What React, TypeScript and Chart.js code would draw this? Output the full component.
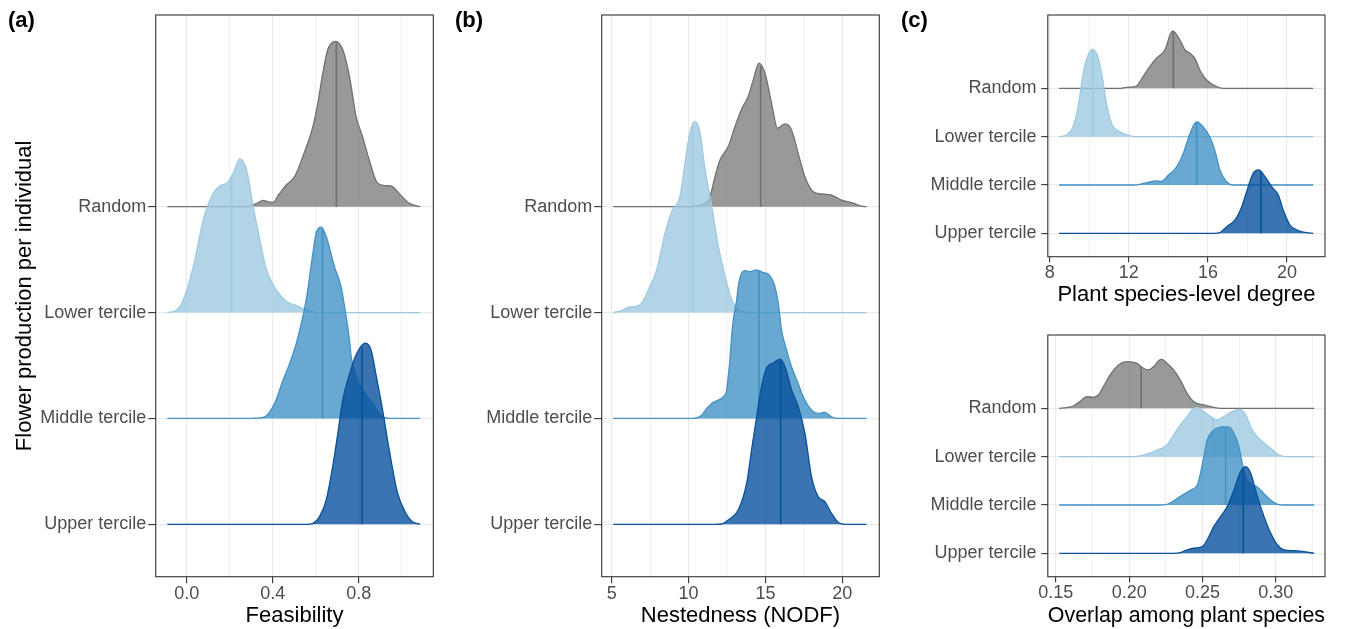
import React, { useEffect, useRef } from "react";
import { Chart, registerables } from "chart.js";
Chart.register(...registerables);
Chart.defaults.font.family = '"Liberation Sans", Arial, Helvetica, sans-serif';

type Pt = [number, number];

// ---------- categories ----------
const groups = ["Random", "Lower tercile", "Middle tercile", "Upper tercile"];
const baselines = [4, 3, 2, 1];
const lineColors = ["#707070", "#9ecae1", "#4292c6", "#08519c"];
const fillColors = ["rgba(128,128,128,0.8)", "rgba(158,202,225,0.8)", "rgba(66,146,198,0.8)", "rgba(8,81,156,0.8)"];

// ---------- (a) Feasibility : [x, ridge height] ----------
const feasRandom: Pt[] = [[-0.09,0],[0.25,0],[0.293,0.006],[0.33,0.035],[0.355,0.06],[0.38,0.045],[0.401,0.041],[0.43,0.12],[0.463,0.205],[0.502,0.284],[0.54,0.473],[0.587,0.757],[0.61,0.978],[0.633,1.261],[0.656,1.482],[0.692,1.561],[0.726,1.482],[0.757,1.23],[0.788,0.851],[0.818,0.662],[0.849,0.441],[0.888,0.221],[0.927,0.199],[0.957,0.189],[0.988,0.126],[1.035,0.032],[1.086,0]];
const feasLower: Pt[] = [[-0.09,0],[-0.046,0.025],[-0.016,0.12],[0.031,0.435],[0.077,0.877],[0.116,1.097],[0.154,1.198],[0.188,1.224],[0.216,1.318],[0.247,1.451],[0.278,1.35],[0.309,1.003],[0.34,0.688],[0.371,0.404],[0.417,0.214],[0.463,0.104],[0.51,0.066],[0.556,0.025],[0.602,0.002],[0.65,0],[1.086,0]];
const feasMiddle: Pt[] = [[-0.09,0],[0.3,0],[0.324,0.003],[0.363,0.015],[0.409,0.142],[0.448,0.362],[0.479,0.52],[0.51,0.71],[0.556,1.119],[0.587,1.561],[0.602,1.75],[0.626,1.807],[0.649,1.718],[0.687,1.434],[0.718,1.245],[0.734,1.06],[0.757,0.741],[0.765,0.583],[0.788,0.394],[0.818,0.268],[0.865,0.142],[0.911,0.015],[0.942,0],[1.086,0]];
const feasUpper: Pt[] = [[-0.09,0],[0.56,0],[0.587,0.009],[0.618,0.072],[0.649,0.23],[0.679,0.545],[0.703,0.861],[0.726,1.176],[0.757,1.419],[0.788,1.602],[0.831,1.712],[0.857,1.649],[0.88,1.419],[0.911,1.081],[0.942,0.703],[0.981,0.293],[1.019,0.104],[1.05,0.025],[1.086,0]];
const feasMedians = [0.696, 0.208, 0.632, 0.816];
const feasTicks = [0, 0.2, 0.4, 0.6, 0.8, 1.0];
const feasTickLabels = ["0.0", "", "0.4", "", "0.8", ""];

// ---------- (b) Nestedness (NODF) ----------
const nodfRandom: Pt[] = [[5.1,0],[10.0,0],[10.42,0.006],[11.07,0.032],[11.39,0.095],[11.72,0.284],[12.04,0.442],[12.58,0.568],[13.02,0.757],[13.45,0.921],[13.88,1.041],[14.21,1.198],[14.58,1.356],[14.97,1.261],[15.4,0.977],[15.79,0.741],[16.27,0.782],[16.7,0.725],[17.13,0.505],[17.57,0.284],[18.11,0.142],[18.65,0.12],[19.3,0.11],[19.95,0.063],[20.6,0.038],[21.25,0.006],[21.58,0]];
const nodfLower: Pt[] = [[5.1,0],[5.65,0.019],[6.08,0.05],[6.52,0.057],[6.95,0.088],[7.38,0.215],[7.93,0.404],[8.47,0.751],[8.9,0.956],[9.44,1.097],[9.77,1.413],[10.09,1.703],[10.42,1.807],[10.74,1.703],[11.07,1.356],[11.5,1.009],[11.93,0.631],[12.37,0.347],[12.8,0.126],[13.23,0.025],[13.67,0.003],[14.2,0],[21.58,0]];
const nodfMiddle: Pt[] = [[5.1,0],[10.3,0],[10.85,0.031],[11.18,0.094],[11.5,0.142],[11.93,0.173],[12.26,0.204],[12.48,0.268],[12.58,0.394],[12.69,0.551],[12.8,0.772],[12.91,0.93],[13.13,1.119],[13.23,1.245],[13.45,1.372],[13.67,1.396],[13.99,1.387],[14.43,1.403],[14.86,1.378],[15.18,1.365],[15.4,1.324],[15.62,1.245],[15.84,1.088],[16.05,0.835],[16.38,0.646],[16.7,0.488],[17.13,0.33],[17.46,0.204],[18.0,0.079],[18.43,0.047],[18.87,0.057],[19.3,0.015],[19.73,0],[21.58,0]];
const nodfUpper: Pt[] = [[5.1,0],[11.7,0],[12.15,0.003],[12.58,0.041],[13.23,0.135],[13.78,0.388],[14.1,0.703],[14.43,1.018],[14.75,1.302],[15.08,1.476],[15.51,1.523],[15.94,1.561],[16.27,1.491],[16.7,1.271],[17.13,1.113],[17.57,0.861],[18.0,0.45],[18.43,0.261],[18.87,0.214],[19.3,0.104],[19.84,0.009],[20.3,0],[21.58,0]];
const nodfMedians = [14.69, 10.27, 14.58, 15.99];
const nodfTicks = [5, 7.5, 10, 12.5, 15, 17.5, 20];
const nodfTickLabels = ["5", "", "10", "", "15", "", "20"];

// ---------- (c, top) Plant species-level degree ----------
const degRandom: Pt[] = [[8.47,0],[11.5,0],[11.88,0.021],[12.2,0.03],[12.39,0.048],[12.72,0.241],[13.06,0.448],[13.4,0.621],[13.82,0.793],[14.21,1.186],[14.58,1.0],[14.84,0.793],[15.09,0.724],[15.34,0.621],[15.59,0.379],[15.93,0.172],[16.44,0.034],[16.77,0],[21.33,0]];
const degLower: Pt[] = [[8.47,0],[8.84,0.034],[9.18,0.207],[9.43,0.621],[9.69,1.31],[9.94,1.69],[10.16,1.807],[10.4,1.69],[10.62,1.31],[10.87,0.69],[11.12,0.276],[11.54,0.103],[11.96,0.034],[12.22,0],[21.33,0]];
const degMiddle: Pt[] = [[8.47,0],[12.3,0],[12.56,0.014],[13.06,0.062],[13.32,0.083],[13.65,0.076],[13.99,0.2],[14.41,0.372],[14.75,0.648],[15.09,1.062],[15.43,1.303],[15.76,1.2],[16.1,0.993],[16.35,0.717],[16.61,0.303],[16.95,0.062],[17.28,0],[21.33,0]];
const degUpper: Pt[] = [[8.47,0],[16.3,0],[16.61,0.014],[16.95,0.138],[17.37,0.276],[17.71,0.552],[18.04,0.966],[18.29,1.241],[18.58,1.31],[18.89,1.172],[19.22,0.966],[19.56,0.793],[19.81,0.483],[20.15,0.172],[20.57,0.055],[21.0,0.014],[21.33,0]];
const degMedians = [14.25, 10.19, 15.43, 18.68];
const degTicks = [8, 10, 12, 14, 16, 18, 20];
const degTickLabels = ["8", "", "12", "", "16", "", "20"];

// ---------- (c, bottom) Overlap among plant species ----------
const ovRandom: Pt[] = [[0.1523,0],[0.1573,0.014],[0.1619,0.048],[0.1664,0.138],[0.171,0.24],[0.1756,0.228],[0.179,0.276],[0.1824,0.448],[0.187,0.69],[0.1927,0.897],[0.1984,0.966],[0.2053,0.931],[0.2098,0.828],[0.2132,0.793],[0.2167,0.862],[0.2201,0.986],[0.2224,1.014],[0.2258,0.931],[0.2303,0.793],[0.2349,0.586],[0.2395,0.31],[0.244,0.138],[0.2509,0.069],[0.2577,0.021],[0.2623,0],[0.3262,0]];
const ovLower: Pt[] = [[0.1523,0],[0.2,0],[0.2053,0.003],[0.2121,0.055],[0.219,0.138],[0.2258,0.241],[0.2303,0.448],[0.2349,0.655],[0.2395,0.828],[0.2429,0.966],[0.2459,1.021],[0.2509,0.931],[0.2555,0.828],[0.2601,0.759],[0.2646,0.828],[0.2703,0.931],[0.2756,0.979],[0.2795,0.862],[0.284,0.552],[0.2897,0.345],[0.2966,0.172],[0.3023,0.034],[0.308,0],[0.3262,0]];
const ovMiddle: Pt[] = [[0.1523,0],[0.22,0],[0.2258,0.014],[0.2327,0.131],[0.2372,0.221],[0.2418,0.303],[0.2464,0.407],[0.2486,0.648],[0.2509,0.993],[0.2532,1.338],[0.2577,1.545],[0.2635,1.614],[0.268,1.614],[0.2715,1.476],[0.2749,1.2],[0.2772,0.855],[0.2795,0.579],[0.2829,0.441],[0.2875,0.372],[0.292,0.234],[0.2966,0.097],[0.3012,0.014],[0.3057,0],[0.3262,0]];
const ovUpper: Pt[] = [[0.1523,0],[0.23,0],[0.2349,0.014],[0.2395,0.069],[0.2452,0.11],[0.2498,0.138],[0.2532,0.276],[0.2577,0.552],[0.2623,0.759],[0.2669,0.966],[0.2715,1.31],[0.276,1.69],[0.2795,1.793],[0.2829,1.655],[0.2875,1.172],[0.292,0.759],[0.2966,0.414],[0.3012,0.172],[0.3057,0.069],[0.3125,0.055],[0.3194,0.034],[0.3262,0]];
const ovMedians = [0.2082, 0.2573, 0.2658, 0.2779];
const ovTicks = [0.15, 0.175, 0.2, 0.225, 0.25, 0.275, 0.3, 0.325];
const ovTickLabels = ["0.15", "", "0.20", "", "0.25", "", "0.30", ""];

// ---------- panel specs (layout kept separate from data) ----------
interface Spec {
  ridges: Pt[][]; medians: number[]; ticks: number[]; tickLabels: string[];
  xMin: number; xMax: number; yMin: number; yMax: number;
  xTitle: string; yTitle?: string;
  box: { left: number; top: number; w: number; h: number };
  area: { left: number; top: number; right: number; bottom: number };
  xTitlePad: number; tickLen: number; yPad: number; xPad: number;
}

const specs: Spec[] = [
  { ridges: [feasRandom, feasLower, feasMiddle, feasUpper], medians: feasMedians, ticks: feasTicks, tickLabels: feasTickLabels,
    xMin: -0.1442, xMax: 1.147, yMin: 0.505, yMax: 5.811, xTitle: "Feasibility", yTitle: "Flower production per individual",
    box: { left: 0, top: 0, w: 440, h: 629 }, area: { left: 155.7, top: 15, right: 433.3, bottom: 576.7 },
    xTitlePad: 0, tickLen: 7.5, yPad: 2, xPad: 0 },
  { ridges: [nodfRandom, nodfLower, nodfMiddle, nodfUpper], medians: nodfMedians, ticks: nodfTicks, tickLabels: nodfTickLabels,
    xMin: 4.349, xMax: 22.41, yMin: 0.505, yMax: 5.811, xTitle: "Nestedness (NODF)",
    box: { left: 440, top: 0, w: 446, h: 629 }, area: { left: 161.7, top: 15, right: 439.3, bottom: 576.7 },
    xTitlePad: 0, tickLen: 7.5, yPad: 2, xPad: 0 },
  { ridges: [degRandom, degLower, degMiddle, degUpper], medians: degMedians, ticks: degTicks, tickLabels: degTickLabels,
    xMin: 7.899, xMax: 21.924, yMin: 0.516, yMax: 5.517, xTitle: "Plant species-level degree",
    box: { left: 886, top: 0, w: 460, h: 315 }, area: { left: 161.8, top: 15, right: 439, bottom: 256.7 },
    xTitlePad: 6.8, tickLen: 6.5, yPad: 4.8, xPad: 0 },
  { ridges: [ovRandom, ovLower, ovMiddle, ovUpper], medians: ovMedians, ticks: ovTicks, tickLabels: ovTickLabels,
    xMin: 0.1445, xMax: 0.3336, yMin: 0.516, yMax: 5.517, xTitle: "Overlap among plant species",
    box: { left: 886, top: 315, w: 460, h: 314 }, area: { left: 161.8, top: 20, right: 439, bottom: 261.7 },
    xTitlePad: 0, tickLen: 6.5, yPad: 4.8, xPad: 0 },
];

function interp(pts: Pt[], x: number): number {
  for (let i = 1; i < pts.length; i++) {
    if (x <= pts[i][0]) {
      const [x0, y0] = pts[i - 1];
      const [x1, y1] = pts[i];
      return y0 + ((y1 - y0) * (x - x0)) / (x1 - x0);
    }
  }
  return 0;
}

const framePlugin = {
  id: "frame",
  afterDraw(chart: any) {
    const { ctx, chartArea } = chart;
    ctx.save();
    ctx.strokeStyle = "#333333";
    ctx.lineWidth = 1.1;
    ctx.strokeRect(chartArea.left, chartArea.top, chartArea.right - chartArea.left, chartArea.bottom - chartArea.top);
    ctx.restore();
  },
};

function buildConfig(p: Spec): any {
  const datasets: any[] = [];
  p.ridges.forEach((pts, i) => {
    const base = baselines[i];
    datasets.push({
      data: pts.map(([x, h]) => ({ x, y: base + h })),
      borderColor: lineColors[i],
      backgroundColor: fillColors[i],
      borderWidth: 1.3,
      pointRadius: 0,
      fill: { value: base },
      cubicInterpolationMode: "monotone",
      order: 8 - 2 * i,
    });
    const m = p.medians[i];
    datasets.push({
      data: [{ x: m, y: base }, { x: m, y: base + interp(pts, m) }],
      borderColor: lineColors[i],
      borderWidth: 1.6,
      pointRadius: 0,
      fill: false,
      order: 7 - 2 * i,
    });
  });
  const xHeight = p.box.h - p.area.bottom;
  return {
    type: "line",
    data: { datasets },
    options: {
      animation: false,
      responsive: false,
      events: [],
      layout: { padding: { left: 0, top: p.area.top, right: p.box.w - p.area.right, bottom: 0 } },
      plugins: { legend: { display: false }, tooltip: { enabled: false } },
      scales: {
        x: {
          type: "linear", min: p.xMin, max: p.xMax,
          afterBuildTicks: (s: any) => { s.ticks = p.ticks.map((v) => ({ value: v })); },
          afterFit: (s: any) => { s.height = xHeight; s.paddingLeft = 0; s.paddingRight = 0; },
          ticks: { autoSkip: false, maxRotation: 0, minRotation: 0, padding: p.xPad, color: "#4d4d4d", font: { size: 18 },
            callback: (_v: any, idx: number) => p.tickLabels[idx] ?? "" },
          grid: {
            color: "#ebebeb",
            lineWidth: (c: any) => (p.tickLabels[c.index] ? 1.2 : 0.7),
            tickColor: (c: any) => (p.tickLabels[c.index] ? "#333333" : "rgba(0,0,0,0)"),
            tickLength: p.tickLen - 1, tickWidth: 1.1,
          },
          border: { display: false },
          title: { display: true, text: p.xTitle, color: "#000000", font: { size: 22 }, padding: { top: 0, bottom: p.xTitlePad } },
        },
        y: {
          type: "linear", min: p.yMin, max: p.yMax,
          afterBuildTicks: (s: any) => { s.ticks = baselines.map((v) => ({ value: v })).reverse(); },
          afterFit: (s: any) => { s.width = p.area.left; s.paddingTop = 0; s.paddingBottom = 0; },
          ticks: { autoSkip: false, padding: p.yPad, color: "#4d4d4d", font: { size: 18 },
            callback: (v: any) => groups[baselines.indexOf(Number(v))] ?? "" },
          grid: { color: "#ebebeb", lineWidth: 1.2, tickColor: "#333333", tickLength: p.tickLen, tickWidth: 1.1 },
          border: { display: false },
          title: p.yTitle
            ? { display: true, text: p.yTitle, color: "#000000", font: { size: 22 }, padding: { top: 11.8, bottom: 0 } }
            : { display: false },
        },
      },
    },
    plugins: [framePlugin],
  };
}

function Panel({ spec }: { spec: Spec }) {
  const ref = useRef<HTMLCanvasElement | null>(null);
  useEffect(() => {
    if (!ref.current) return;
    const chart = new Chart(ref.current, buildConfig(spec));
    return () => chart.destroy();
  }, [spec]);
  return (
    <canvas
      ref={ref}
      width={spec.box.w}
      height={spec.box.h}
      style={{ position: "absolute", left: spec.box.left, top: spec.box.top, width: spec.box.w, height: spec.box.h }}
    />
  );
}

const panelLabels = [
  { text: "(a)", left: 8 },
  { text: "(b)", left: 455 },
  { text: "(c)", left: 901 },
];

export default function App() {
  useEffect(() => {
    document.body.style.margin = "0";
  }, []);
  return (
    <div style={{ position: "absolute", left: 0, top: 0, width: 1346, height: 629, background: "#ffffff", overflow: "hidden" }}>
      {specs.map((s, i) => (
        <Panel key={i} spec={s} />
      ))}
      {panelLabels.map((l) => (
        <div
          key={l.text}
          style={{
            position: "absolute", left: l.left, top: 8, lineHeight: "24px", fontSize: 22, fontWeight: 700,
            fontFamily: '"Liberation Sans", Arial, Helvetica, sans-serif', color: "#000",
          }}
        >
          {l.text}
        </div>
      ))}
    </div>
  );
}
